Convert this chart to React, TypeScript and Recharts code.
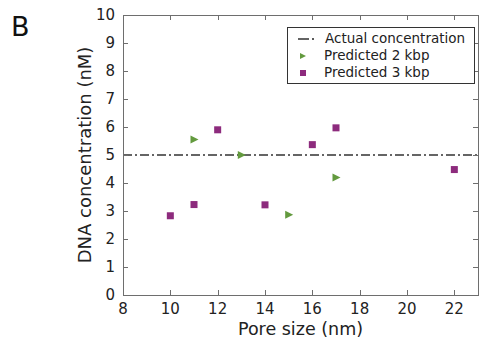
import {
  ScatterChart,
  Scatter,
  XAxis,
  YAxis,
  ReferenceLine,
} from "recharts";

const PORE_2KBP = [11, 13, 15, 17];
const CONC_2KBP = [5.55, 5.0, 2.87, 4.2];

const PORE_3KBP = [10, 11, 12, 14, 16, 17, 22];
const CONC_3KBP = [2.83, 3.23, 5.9, 3.22, 5.37, 5.97, 4.48];

const ACTUAL_CONCENTRATION = 5;

const X_TICKS = [8, 10, 12, 14, 16, 18, 20, 22];
const Y_TICKS = [0, 1, 2, 3, 4, 5, 6, 7, 8, 9, 10];

const SERIES_NAMES = ["Actual concentration", "Predicted 2 kbp", "Predicted 3 kbp"];

const GREEN = "#639a3e";
const PURPLE = "#8d2b7d";
const AXIS = "#6e6e6e";
const FONT = "'DejaVu Sans', Verdana, sans-serif";

// plot box (chart margins + axis sizes)
const W = 481;
const H = 338;
const LEFT = 123;
const TOP = 15;
const RIGHT = 478;
const BOTTOM = 295;
const X_DOMAIN = [8, 23];
const Y_DOMAIN = [0, 10];

const data2 = PORE_2KBP.map((x, i) => ({ x, y: CONC_2KBP[i] }));
const data3 = PORE_3KBP.map((x, i) => ({ x, y: CONC_3KBP[i] }));

const Triangle = (props: any) => {
  const { cx, cy } = props;
  return <polygon points={`${cx - 3.5},${cy - 4} ${cx + 4.5},${cy} ${cx - 3.5},${cy + 4}`} fill={GREEN} />;
};

const Square = (props: any) => {
  const { cx, cy } = props;
  return <rect x={cx - 3.5} y={cy - 3.5} width={7} height={7} fill={PURPLE} />;
};

// frame with inward ticks on all four sides
const Frame = () => {
  const xp = (t: number) => LEFT + ((t - X_DOMAIN[0]) / (X_DOMAIN[1] - X_DOMAIN[0])) * (RIGHT - LEFT);
  const yp = (t: number) => BOTTOM - ((t - Y_DOMAIN[0]) / (Y_DOMAIN[1] - Y_DOMAIN[0])) * (BOTTOM - TOP);
  return (
    <svg width={W} height={H} style={{ position: "absolute", left: 0, top: 0, pointerEvents: "none" }}>
      <rect x={LEFT + 0.5} y={TOP + 0.5} width={RIGHT - LEFT} height={BOTTOM - TOP} fill="none" stroke={AXIS} strokeWidth={1} />
      {X_TICKS.map((t) => (
        <g key={`x${t}`}>
          <line x1={Math.round(xp(t)) + 0.5} y1={BOTTOM} x2={Math.round(xp(t)) + 0.5} y2={BOTTOM - 5} stroke={AXIS} />
          <line x1={Math.round(xp(t)) + 0.5} y1={TOP} x2={Math.round(xp(t)) + 0.5} y2={TOP + 5} stroke={AXIS} />
        </g>
      ))}
      {Y_TICKS.map((t) => (
        <g key={`y${t}`}>
          <line x1={LEFT} y1={Math.round(yp(t)) + 0.5} x2={LEFT + 5} y2={Math.round(yp(t)) + 0.5} stroke={AXIS} />
          <line x1={RIGHT} y1={Math.round(yp(t)) + 0.5} x2={RIGHT - 5} y2={Math.round(yp(t)) + 0.5} stroke={AXIS} />
        </g>
      ))}
    </svg>
  );
};

const LegendBox = () => (
  <div
    style={{
      position: "absolute",
      left: 287,
      top: 27,
      width: 186,
      height: 55,
      boxSizing: "content-box",
      border: "1px solid #333",
      background: "#fff",
      fontFamily: FONT,
      fontSize: 13.5,
      color: "#222",
      lineHeight: "17px",
      whiteSpace: "nowrap",
    }}
  >
    <div style={{ display: "flex", alignItems: "center", marginTop: 2 }}>
      <svg width={30} height={10}>
        <line x1={10} y1={5} x2={21} y2={5} stroke="#222" strokeWidth={1.4} />
        <line x1={24} y1={5} x2={26} y2={5} stroke="#222" strokeWidth={1.4} />
      </svg>
      <span style={{ marginLeft: 7 }}>{SERIES_NAMES[0]}</span>
    </div>
    <div style={{ display: "flex", alignItems: "center" }}>
      <svg width={30} height={10}>
        <polygon points="12,2 18,5 12,8" fill={GREEN} />
      </svg>
      <span style={{ marginLeft: 6 }}>{SERIES_NAMES[1]}</span>
    </div>
    <div style={{ display: "flex", alignItems: "center" }}>
      <svg width={30} height={10}>
        <rect x={12} y={2} width={6} height={6} fill={PURPLE} />
      </svg>
      <span style={{ marginLeft: 6 }}>{SERIES_NAMES[2]}</span>
    </div>
  </div>
);

export default function App() {
  const tickStyle = { fontSize: 15, fill: "#222", fontFamily: FONT };
  return (
    <div style={{ position: "absolute", left: 0, top: 0, width: W, height: H }}>
      <ScatterChart width={W} height={H} margin={{ top: TOP, right: W - RIGHT, left: 0, bottom: 0 }}>
        <XAxis
          type="number"
          dataKey="x"
          domain={X_DOMAIN}
          ticks={X_TICKS}
          height={H - BOTTOM}
          axisLine={false}
          tickLine={false}
          tick={tickStyle}
          label={{
            value: "Pore size (nm)",
            position: "insideBottom",
            offset: 3,
            style: { fontSize: 17.5, fill: "#222", fontFamily: FONT },
          }}
        />
        <YAxis
          type="number"
          dataKey="y"
          domain={Y_DOMAIN}
          ticks={Y_TICKS}
          width={LEFT}
          axisLine={false}
          tickLine={false}
          tick={tickStyle}
          label={{
            value: "DNA concentration (nM)",
            angle: -90,
            position: "insideLeft",
            offset: 85,
            style: { fontSize: 18, fill: "#222", fontFamily: FONT, textAnchor: "middle" },
          }}
        />
        <ReferenceLine y={ACTUAL_CONCENTRATION} stroke="#333" strokeWidth={1.3} strokeDasharray="9 3 2 3" />
        <Scatter name={SERIES_NAMES[1]} data={data2} shape={Triangle} isAnimationActive={false} />
        <Scatter name={SERIES_NAMES[2]} data={data3} shape={Square} isAnimationActive={false} />
      </ScatterChart>
      <Frame />
      <div
        style={{
          position: "absolute",
          left: 11,
          top: 11,
          fontFamily: FONT,
          fontSize: 27,
          color: "#111",
        }}
      >
        B
      </div>
      <LegendBox />
    </div>
  );
}
